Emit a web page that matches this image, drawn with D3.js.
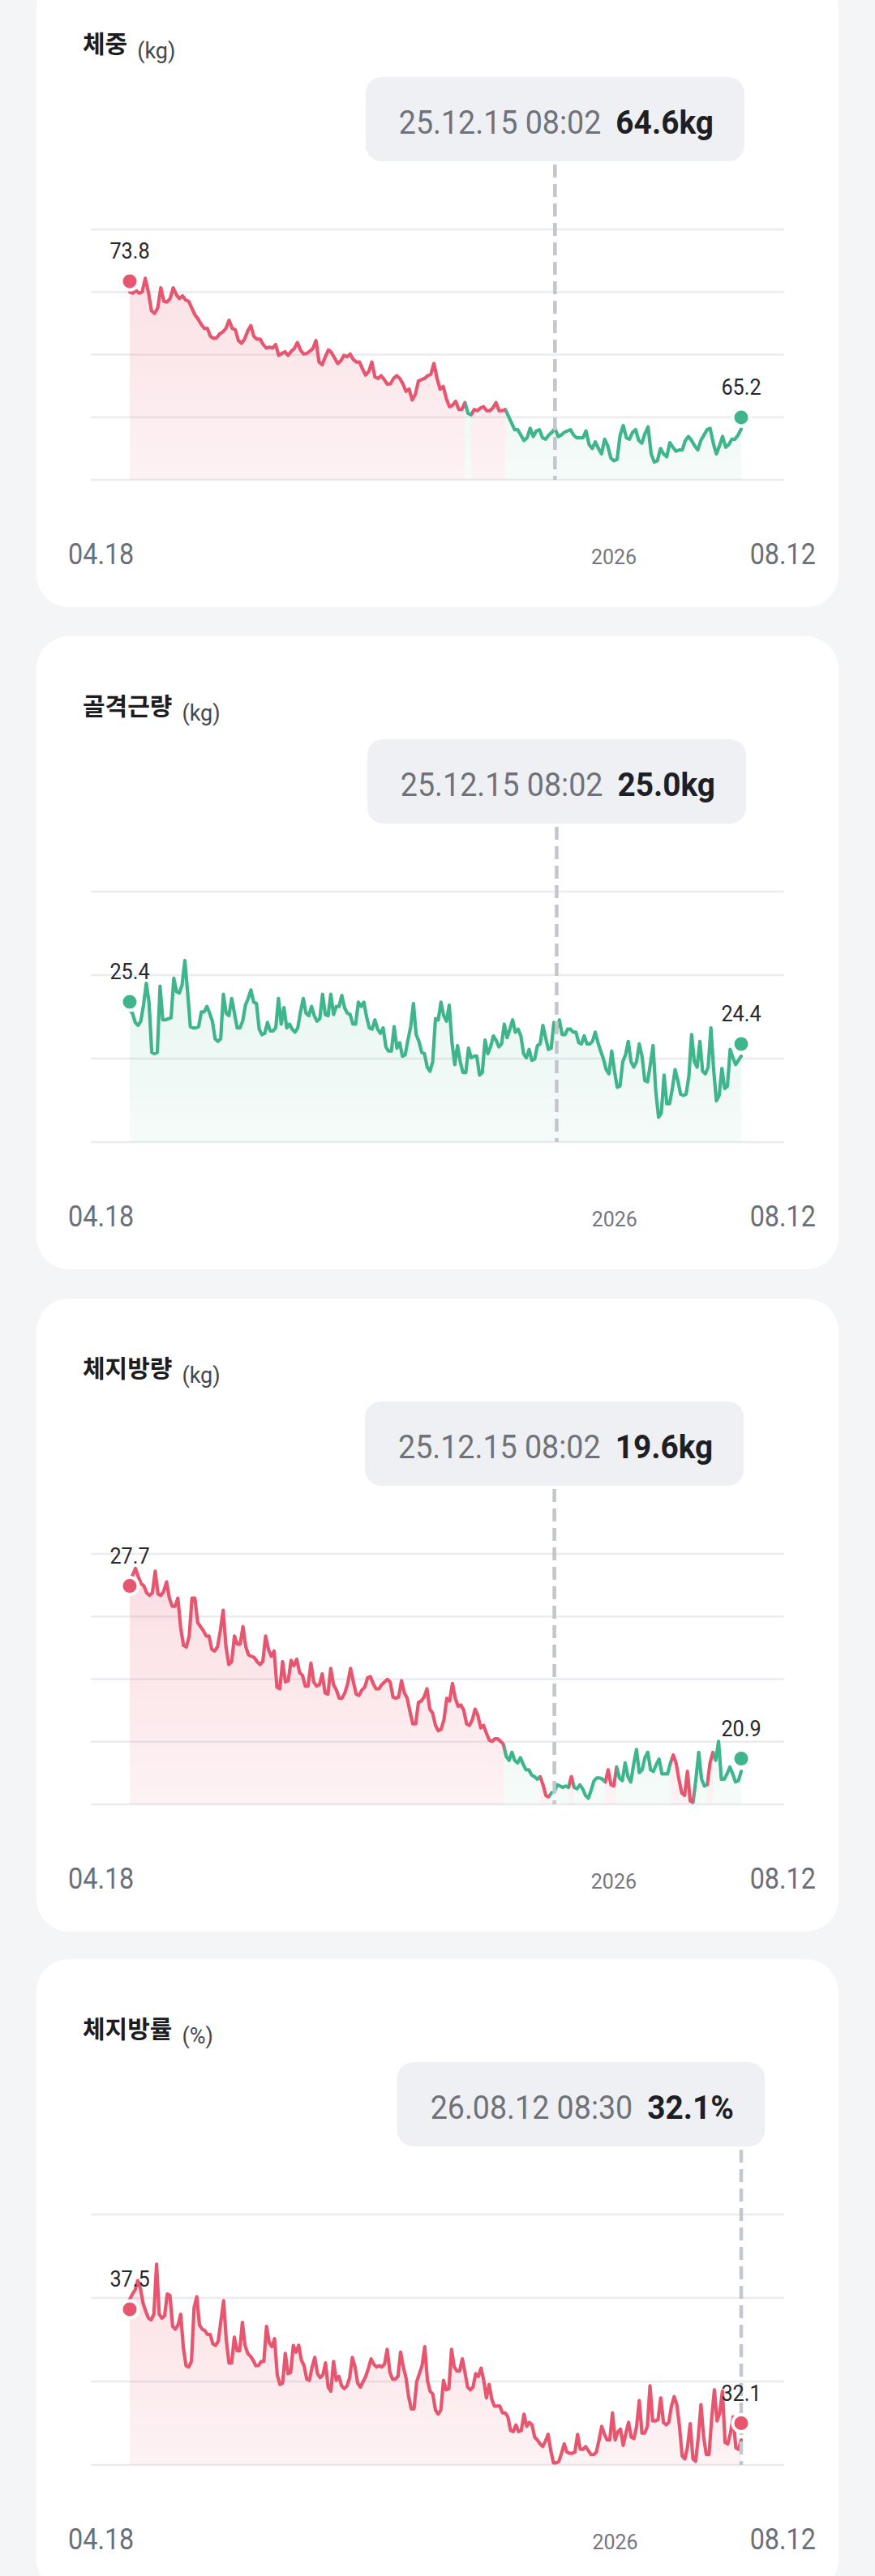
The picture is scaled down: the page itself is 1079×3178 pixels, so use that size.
<!DOCTYPE html>
<html><head><meta charset="utf-8">
<script src="https://cdn.jsdelivr.net/npm/d3@7"></script>
<style>
html,body{margin:0;padding:0;background:#f4f5f7;}
svg{display:block;}
</style></head><body>
<svg id="chart" width="1079" height="3178"></svg>
<script>
// ---------- DATA ----------
const titles = ['체중', '골격근량', '체지방량', '체지방률'];
const units = ['(kg)', '(kg)', '(kg)', '(%)'];
const xTickLabels = ['04.18', '2026', '08.12'];

const weight = [
73.13,73.05,73.22,73.05,73.13,73.99,73.13,71.94,71.77,72.11,
73.39,72.54,72.49,72.71,73.39,72.96,72.71,72.88,72.62,72.54,
72.11,71.68,71.43,71.09,70.83,70.83,70.32,70.20,70.23,70.49,
70.61,70.83,71.34,70.83,70.75,70.06,69.89,70.15,70.66,71.00,
70.32,70.15,70.15,69.81,69.58,69.64,69.58,69.81,69.12,69.24,
69.35,69.12,69.38,69.55,69.93,69.47,69.21,69.24,69.38,69.55,
70.06,68.70,68.53,69.04,69.47,69.30,68.95,68.61,68.78,69.12,
69.04,69.21,68.87,68.70,68.70,68.27,67.88,68.10,68.70,67.76,
67.67,67.84,67.59,67.30,67.33,67.67,67.84,67.67,67.33,66.85,
66.99,
66.31,66.65,67.50,67.59,67.67,67.84,67.93,68.61,67.67,66.99,
67.16,66.39,65.88,65.97,66.22,65.71,65.71,
66.14,65.45,
65.37,65.71,65.63,65.80,65.88,65.63,65.63,65.80,66.14,65.63,65.63,
65.71,65.28,64.86,64.43,64.43,64.09,63.75,63.92,64.52,64.00,
64.35,64.43,63.92,63.83,64.09,64.26,64.52,64.00,64.09,64.26,
64.35,64.43,64.09,63.92,63.92,63.92,64.35,63.49,63.24,63.66,
63.24,62.90,63.83,63.41,62.64,62.47,62.55,64.09,64.69,63.92,
63.83,64.26,64.43,63.75,63.58,64.18,64.60,62.90,62.38,62.47,
63.24,62.90,62.72,63.61,63.32,63.07,63.15,63.15,63.75,64.00,
63.75,63.41,63.15,63.75,64.09,64.43,64.52,63.58,62.90,63.41,
64.00,63.32,63.49,63.83,63.83,64.09,64.47
];
const weightStatus = [['r', 108], ['g', 2], ['r', 11], ['g', 77]];

const muscle = [
25.20,25.13,24.91,24.84,24.94,25.32,25.84,25.39,24.20,24.17,
24.20,25.77,24.97,24.97,25.00,25.02,25.96,25.64,25.61,25.80,
26.38,25.64,24.81,24.78,24.78,24.81,25.16,25.16,25.29,25.13,
24.94,24.52,24.46,24.52,25.58,25.13,25.07,25.48,25.13,24.78,
24.78,24.94,25.32,25.48,25.68,25.39,25.36,24.75,24.62,24.65,
24.91,24.71,24.71,24.78,25.48,24.87,25.26,24.78,24.87,24.75,
24.68,24.78,25.16,25.48,25.13,25.07,25.29,25.07,24.94,25.00,
25.58,25.10,25.07,25.58,25.10,25.29,25.29,25.55,25.26,25.13,
25.10,24.87,24.87,25.39,25.29,25.39,25.04,24.78,24.75,24.97,
24.75,24.65,24.78,24.33,24.23,24.23,24.81,24.30,24.43,24.11,
24.14,24.49,24.81,25.36,24.62,24.46,24.20,24.17,
23.85,23.75,23.98,25.00,24.97,25.39,25.07,24.94,25.32,24.43,
23.91,24.36,23.98,23.72,23.72,24.30,24.07,24.11,24.11,23.66,
23.72,24.49,24.17,24.33,24.59,24.49,24.33,24.40,24.87,24.55,
24.75,24.97,24.68,24.75,24.59,24.17,24.07,24.27,24.01,24.04,
24.36,24.40,24.84,24.55,24.27,24.30,24.91,24.75,24.97,24.62,
24.62,24.75,24.75,24.68,24.68,24.43,24.40,24.59,24.40,24.40,
24.46,24.68,24.43,24.23,24.04,23.79,23.69,24.23,23.75,23.37,
23.40,23.98,24.14,24.46,23.98,23.85,23.98,24.40,24.11,23.53,
23.50,23.91,24.36,23.27,22.66,22.76,23.66,22.98,22.98,23.34,
23.79,23.53,23.21,23.18,23.21,23.63,24.62,23.98,23.85,24.46,
23.75,23.69,23.85,24.78,23.79,23.05,23.18,23.82,23.34,23.40,
24.27,24.07,23.91,24.01,24.11
];
const muscleStatus = [['g', 223]];

const fatMass = [
27.96,28.12,28.39,28.07,27.80,27.70,27.43,27.33,27.43,28.28,
27.38,27.33,27.49,27.86,27.22,26.90,26.90,27.22,26.05,25.36,
25.30,25.73,27.22,27.22,26.26,26.10,25.94,25.73,25.73,25.20,
25.14,25.30,25.94,26.74,25.30,24.61,24.72,25.73,25.41,25.41,
26.10,25.30,24.98,24.93,24.88,24.72,24.61,24.72,25.73,25.20,
24.93,25.14,23.71,23.65,24.72,23.92,23.97,24.77,24.56,24.82,
24.29,24.18,23.76,23.76,24.66,23.92,23.76,23.81,24.24,23.49,
23.44,24.45,23.81,23.60,23.28,23.28,23.49,23.86,24.45,23.92,
23.44,23.39,23.60,23.71,24.08,24.13,23.86,23.65,23.65,23.81,
23.92,24.02,23.92,23.33,23.28,23.33,23.97,23.49,23.28,22.75,
22.27,22.27,23.12,23.17,23.33,
23.65,22.85,22.69,22.21,22.00,22.06,22.43,23.28,23.17,23.86,
23.28,22.96,23.01,22.80,22.27,22.21,22.43,22.85,22.59,22.11,
22.21,21.90,21.63,21.58,21.68,21.68,21.58,21.47,20.99,20.83,
21.15,20.83,20.73,20.94,20.67,20.46,20.46,20.25,20.19,20.09,
20.19,19.87,19.45,19.39,19.55,19.60,19.87,19.82,19.77,19.82,
19.77,20.19,19.77,19.71,19.87,19.71,19.45,19.34,19.66,20.03,
20.14,20.14,20.09,19.98,20.46,19.87,19.82,20.57,20.14,20.03,
20.73,20.19,19.98,20.67,21.26,20.35,20.46,20.94,21.15,20.46,
20.40,20.67,20.88,20.30,20.30,20.30,20.73,21.04,20.73,20.09,
19.55,19.45,20.40,19.23,19.18,20.09,21.15,20.09,19.82,19.87,
20.73,21.15,20.83,21.58,20.09,20.09,20.30,20.57,20.30,19.98,
20.03,20.40
];
const fatMassStatus = [['r', 132], ['g', 13], ['r', 3], ['g', 7], ['r', 2], ['g', 11],
  ['r', 4], ['g', 19], ['r', 8], ['g', 5], ['r', 2], ['g', 11]];

const fatRate = [
37.97,38.23,38.42,38.87,38.48,37.78,37.40,37.08,37.01,37.27,
39.64,37.27,37.08,37.20,38.23,38.16,36.69,36.56,36.76,37.27,
35.67,34.83,34.77,35.03,37.59,38.10,36.76,36.56,36.50,36.31,
36.31,35.86,35.79,35.99,36.95,37.91,36.05,34.96,34.96,36.18,
35.54,35.54,36.88,35.79,35.41,35.28,35.09,34.83,34.83,35.03,
35.03,36.69,35.92,35.73,36.11,34.39,33.94,34.00,35.41,34.45,
34.51,35.79,35.47,35.79,35.09,34.83,34.19,34.13,34.77,35.22,
34.45,34.26,34.39,34.96,33.81,33.62,35.03,34.13,34.32,33.87,
33.74,33.87,34.26,35.22,34.77,34.00,33.81,34.07,34.32,34.71,
35.15,34.90,34.77,34.83,34.77,34.90,35.60,34.51,34.19,34.19,
34.32,35.47,34.77,34.26,33.36,32.78,32.78,34.07,34.45,34.83,
35.73,34.13,33.62,33.49,32.72,32.53,32.72,34.13,33.68,33.74,
35.60,34.77,34.58,34.58,35.15,34.51,33.81,33.68,33.81,34.45,
34.32,34.71,34.13,33.30,33.94,33.23,32.91,32.91,32.91,32.59,
32.59,32.40,31.76,31.70,32.02,31.70,31.76,32.53,31.95,32.14,
32.02,31.44,31.31,31.12,30.99,31.25,31.57,30.80,30.22,30.22,
30.29,30.67,31.12,30.73,30.67,30.67,30.73,31.57,30.86,30.86,
30.99,30.80,30.61,30.61,30.73,31.31,31.95,31.57,31.31,31.31,
32.59,31.31,31.69,31.82,31.05,31.63,32.14,31.44,31.37,31.95,
33.17,31.63,31.63,31.95,33.87,32.21,32.21,32.27,33.30,32.14,
32.02,32.14,32.91,33.36,32.98,31.95,30.54,30.41,30.99,32.08,
30.41,30.29,31.44,32.98,31.44,30.61,30.61,32.34,33.68,32.21,
32.59,33.62,31.18,31.12,31.63,32.40,30.93,30.86,31.31
];
const fatRateStatus = [['r', 229]];

const startLabels = [73.8, 25.4, 27.7, 37.5];
const endLabels = [65.2, 24.4, 20.9, 32.1];
const tooltipDates = ['25.12.15 08:02', '25.12.15 08:02', '25.12.15 08:02', '26.08.12 08:30'];
const tooltipValues = ['64.6kg', '25.0kg', '19.6kg', '32.1%'];
const selectedIndex = [137, 155, 150, 228];
const yearStartIndex = [156, 176, 171, 181];
const yDomains = [[61.26, 77.08], [22.07, 28.015], [19.10, 28.965], [30.12, 42.0]];
const gridCounts = [5, 4, 5, 4];

const series = [weight, muscle, fatMass, fatRate];
const statuses = [weightStatus, muscleStatus, fatMassStatus, fatRateStatus];

// ---------- LAYOUT ----------
const cardTops = [-32, 785, 1602, 2417];
const cardX = 45, cardW = 989, cardH = 781, cardR = 40;
const plotX0 = 160, plotX1 = 914, gridX0 = 112, gridX1 = 967;
const plotTopOff = 315, plotBotOff = 624;
const COLORS = { r: '#e8556e', g: '#3fb58c' };
const FILL_OP = { r: 0.2, g: 0.14 };
const LATIN = 'Roboto, "Noto Sans", sans-serif';
const KR = '"Noto Sans CJK KR", "Noto Sans", sans-serif';

const svg = d3.select('#chart');
svg.append('rect').attr('width', 1079).attr('height', 3178).attr('fill', '#f4f5f7');
const defs = svg.append('defs');

function condense(sel, factor) {
  const w = sel.node().getComputedTextLength();
  sel.attr('textLength', w * factor).attr('lengthAdjust', 'spacingAndGlyphs');
  return w * factor;
}

series.forEach((vals, i) => {
  const T = cardTops[i];
  const N = vals.length;
  const g = svg.append('g');
  g.append('rect').attr('x', cardX).attr('y', T).attr('width', cardW).attr('height', cardH)
    .attr('rx', cardR).attr('fill', '#ffffff');

  const x = d3.scaleLinear().domain([0, N - 1]).range([plotX0, plotX1]);
  const y = d3.scaleLinear().domain(yDomains[i]).range([T + plotBotOff, T + plotTopOff]);
  const yBase = y(yDomains[i][0]);
  const yTop = y(yDomains[i][1]);

  // title + unit
  const title = g.append('text').attr('x', 102).attr('y', T + 97)
    .attr('font-family', KR).attr('font-weight', 700).attr('font-size', 30)
    .attr('fill', '#1b1d22').text(titles[i]);
  const tw = title.node().getComputedTextLength();
  g.append('text').attr('x', 102 + tw + 12).attr('y', T + 104)
    .attr('font-family', LATIN).attr('font-size', 27).attr('fill', '#45474d').text(units[i]);

  // colour runs
  const runs = [];
  let s = 0;
  statuses[i].forEach(([c, n]) => {
    runs.push({ c, s, e: Math.min(s + n, N - 1) });
    s += n;
  });

  // horizontal colour gradients (hard stops) for line and fill
  const lineGrad = defs.append('linearGradient').attr('id', `lc-${i}`)
    .attr('gradientUnits', 'userSpaceOnUse')
    .attr('x1', plotX0).attr('x2', plotX1).attr('y1', 0).attr('y2', 0);
  const fillGrad = defs.append('linearGradient').attr('id', `fc-${i}`)
    .attr('gradientUnits', 'userSpaceOnUse')
    .attr('x1', plotX0).attr('x2', plotX1).attr('y1', 0).attr('y2', 0);
  runs.forEach(r => {
    [r.s, r.e].forEach(k => {
      const off = k / (N - 1);
      lineGrad.append('stop').attr('offset', off).attr('stop-color', COLORS[r.c]);
      fillGrad.append('stop').attr('offset', off).attr('stop-color', COLORS[r.c]).attr('stop-opacity', FILL_OP[r.c]);
    });
  });
  // vertical fade mask
  const fade = defs.append('linearGradient').attr('id', `fade-${i}`)
    .attr('gradientUnits', 'userSpaceOnUse')
    .attr('x1', 0).attr('x2', 0).attr('y1', yTop).attr('y2', yBase);
  fade.append('stop').attr('offset', 0).attr('stop-color', '#fff').attr('stop-opacity', 1);
  fade.append('stop').attr('offset', 1).attr('stop-color', '#fff').attr('stop-opacity', 0.38);
  defs.append('mask').attr('id', `mask-${i}`).attr('maskUnits', 'userSpaceOnUse')
    .attr('x', 0).attr('y', yTop - 40).attr('width', 1079).attr('height', yBase - yTop + 60)
    .append('rect').attr('x', 0).attr('y', yTop - 40).attr('width', 1079).attr('height', yBase - yTop + 60)
    .attr('fill', `url(#fade-${i})`);

  // gridlines
  const ticks = d3.range(gridCounts[i]).map(k => yDomains[i][0] + k * (yDomains[i][1] - yDomains[i][0]) / (gridCounts[i] - 1));
  g.selectAll('.grid').data(ticks).join('line')
    .attr('x1', gridX0).attr('x2', gridX1)
    .attr('y1', d => y(d)).attr('y2', d => y(d))
    .attr('stroke', '#ebecf0').attr('stroke-width', 2.5);

  const pts = vals.map((v, j) => ({ i: j, v }));
  const area = d3.area().x(d => x(d.i)).y0(yBase).y1(d => y(d.v));
  const line = d3.line().x(d => x(d.i)).y(d => y(d.v));

  g.append('path').attr('d', area(pts)).attr('fill', `url(#fc-${i})`).attr('mask', `url(#mask-${i})`);
  g.append('path').attr('d', line(pts))
    .attr('fill', 'none').attr('stroke', `url(#lc-${i})`).attr('stroke-width', 4.2)
    .attr('stroke-linejoin', 'round').attr('stroke-linecap', 'round');

  // tooltip & dashed line
  const sx = x(selectedIndex[i]);
  const boxTop = T + 127, boxBot = T + 231;
  g.append('line').attr('x1', sx).attr('x2', sx).attr('y1', boxBot + 4).attr('y2', yBase)
    .attr('stroke', '#c4c6cd').attr('stroke-width', 4.5).attr('stroke-dasharray', '16 8');

  const tipG = g.append('g');
  const boxRect = tipG.append('rect').attr('rx', 20).attr('fill', '#eff0f3');
  const dateT = tipG.append('text').attr('y', T + 197)
    .attr('font-family', LATIN).attr('font-size', 40).attr('fill', '#6f7279').text(tooltipDates[i]);
  const dw = condense(dateT, 0.94);
  const valT = tipG.append('text').attr('y', T + 197)
    .attr('font-family', LATIN).attr('font-weight', 700).attr('font-size', 40).attr('fill', '#1d1f25').text(tooltipValues[i]);
  const vw = condense(valT, 0.97);
  const bw = 41 + dw + 18 + vw + 38;
  let bx = sx - bw / 2;
  if (bx + bw > 943) bx = 943 - bw;
  boxRect.attr('x', bx).attr('y', boxTop).attr('width', bw).attr('height', boxBot - boxTop);
  dateT.attr('x', bx + 41);
  valT.attr('x', bx + 41 + dw + 18);

  // end dots + labels
  const ends = [
    { idx: 0, v: startLabels[i], c: statuses[i][0][0] },
    { idx: N - 1, v: endLabels[i], c: statuses[i][statuses[i].length - 1][0] }
  ];
  ends.forEach(d => {
    const cx = x(d.idx), cy = y(d.v);
    g.append('circle').attr('cx', cx).attr('cy', cy).attr('r', 10.5)
      .attr('fill', COLORS[d.c]).attr('stroke', '#ffffff').attr('stroke-width', 4);
    const lt = g.append('text').attr('x', cx).attr('y', cy - 28).attr('text-anchor', 'middle')
      .attr('font-family', LATIN).attr('font-size', 28).attr('fill', '#26282d').text(d3.format('.1f')(d.v));
    condense(lt, 0.9);
  });

  // x labels
  const l0 = g.append('text').attr('x', 84).attr('y', T + 728)
    .attr('font-family', LATIN).attr('font-size', 37).attr('fill', '#6c6f76').text(xTickLabels[0]);
  condense(l0, 0.875);
  const l2 = g.append('text').attr('x', 1006).attr('y', T + 728).attr('text-anchor', 'end')
    .attr('font-family', LATIN).attr('font-size', 37).attr('fill', '#6c6f76').text(xTickLabels[2]);
  condense(l2, 0.875);
  g.append('text').attr('x', x(yearStartIndex[i])).attr('y', T + 728).attr('text-anchor', 'middle')
    .attr('font-family', LATIN).attr('font-size', 25).attr('fill', '#74777e').text(xTickLabels[1]);
});
</script>
</body></html>
